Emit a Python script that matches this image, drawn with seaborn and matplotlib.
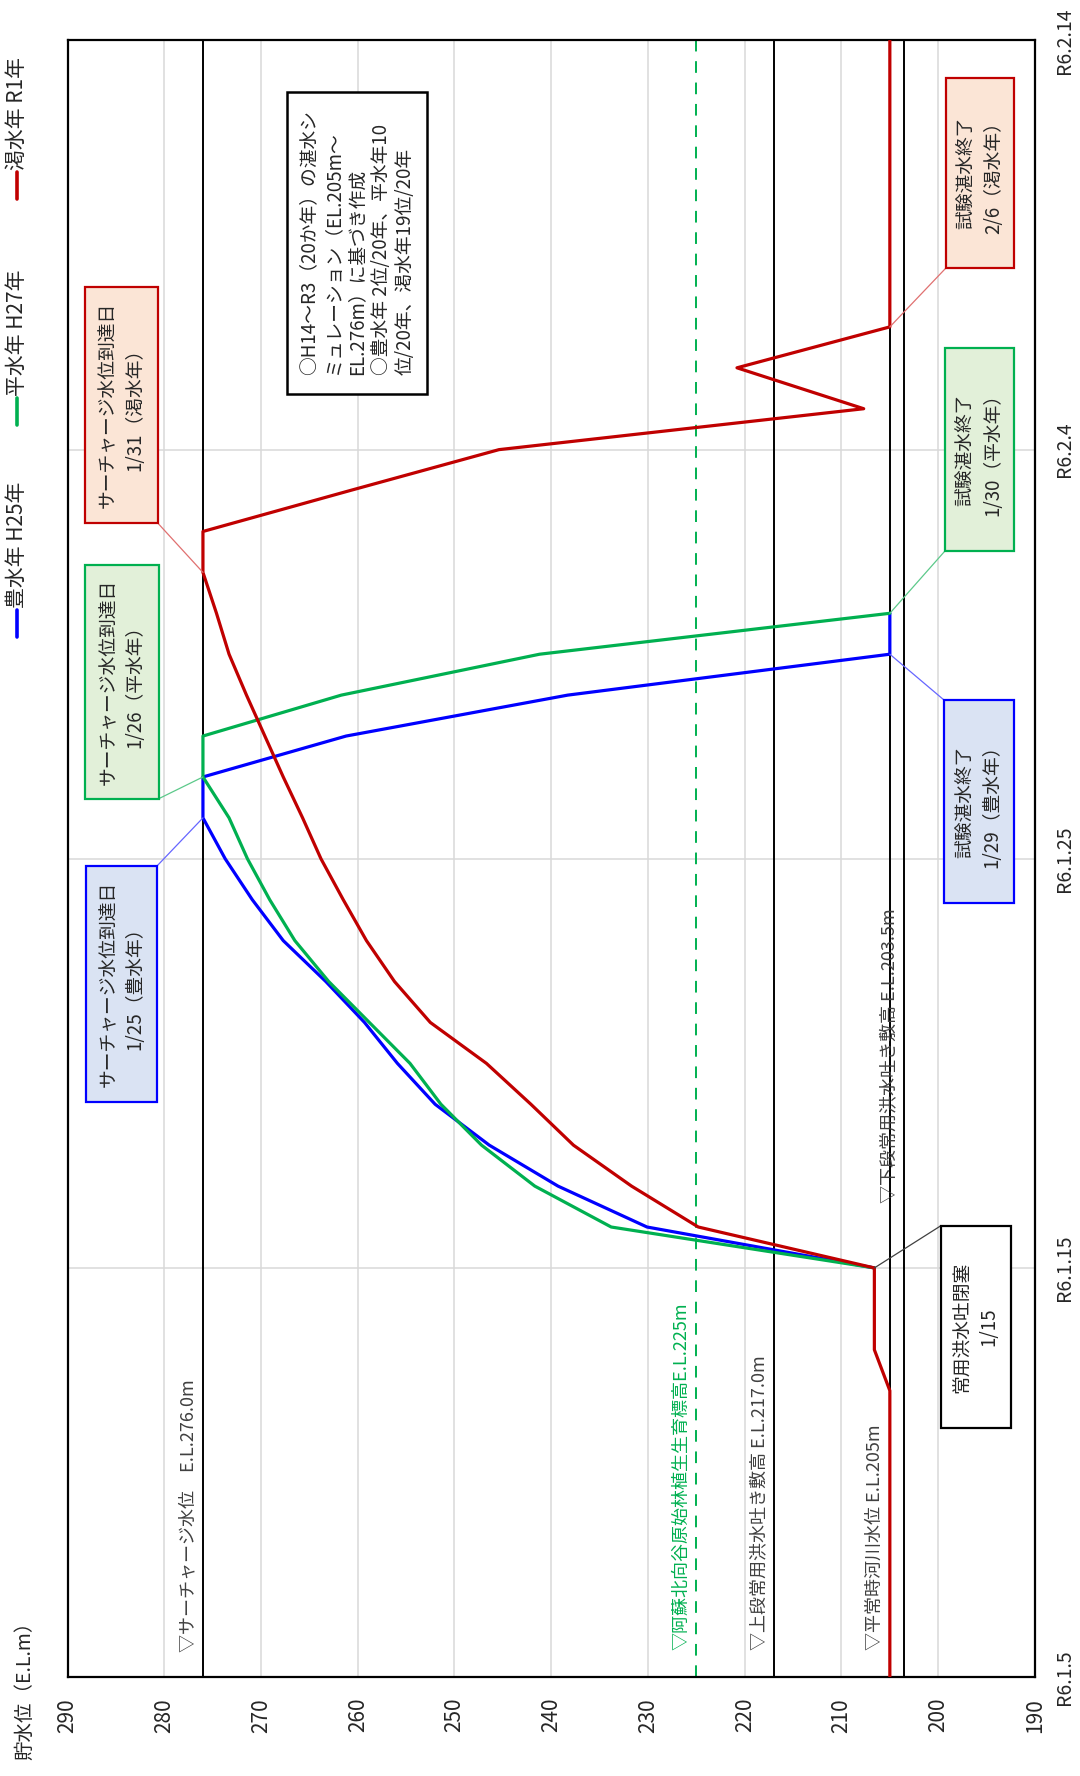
import numpy as np
import pandas as pd
import seaborn as sns
import matplotlib.pyplot as plt
from matplotlib.patches import Rectangle
from matplotlib.lines import Line2D

# 豊水年 H25年
wet_days = ["1/15", "1/16", "1/17", "1/18", "1/19", "1/20", "1/21", "1/22",
            "1/23", "1/24", "1/25", "1/26", "1/27", "1/28", "1/29", "1/30", "1/31"]
wet_level = [206.6, 230.1, 239.3, 246.4, 252.0, 255.9, 259.3, 263.3,
             267.7, 270.9, 273.7, 276.0, 276.0, 261.2, 238.3, 205.0, 205.0]

# 平水年 H27年
avg_days = ["1/15", "1/16", "1/17", "1/18", "1/19", "1/20", "1/21", "1/22",
            "1/23", "1/24", "1/25", "1/26", "1/27", "1/28", "1/29", "1/30", "1/31"]
avg_level = [206.6, 233.8, 241.7, 247.2, 251.4, 254.6, 258.8, 263.0,
             266.5, 269.1, 271.4, 273.3, 276.0, 276.0, 261.7, 241.2, 205.0]

# 渇水年 R1年
dry_days = ["1/5", "1/12", "1/13", "1/14", "1/15", "1/16", "1/17", "1/18", "1/19",
            "1/20", "1/21", "1/22", "1/23", "1/24", "1/25", "1/26", "1/27", "1/28",
            "1/29", "1/30", "1/31", "2/1", "2/2", "2/3", "2/4", "2/5", "2/6", "2/7", "2/14"]
dry_level = [205.0, 205.0, 206.6, 206.6, 206.6, 224.8, 231.7, 237.7, 242.1,
             246.7, 252.5, 256.2, 259.1, 261.5, 263.8, 265.7, 267.7, 269.6,
             271.5, 273.3, 274.6, 276.0, 276.0, 260.8, 245.4, 207.7, 220.8, 205.0, 205.0]

series_names = ["豊水年 H25年", "平水年 H27年", "渇水年 R1年"]
series_colors = ["#0000FF", "#00B050", "#C00000"]

# 基準水位
ref_levels = [276.0, 225.0, 217.0, 205.0, 203.5]
ref_labels = ["▽サーチャージ水位　E.L.276.0m",
              "▽阿蘇北向谷原始林植生生育標高E.L.225m",
              "▽上段常用洪水吐き敷高 E.L.217.0m",
              "▽平常時河川水位 E.L.205m",
              "▽下段常用洪水吐き敷高 E.L.203.5m"]

tick_days = ["1/5", "1/15", "1/25", "2/4", "2/14"]
tick_labels = ["R6.1.5", "R6.1.15", "R6.1.25", "R6.2.4", "R6.2.14"]


def to_date(d):
    return pd.to_datetime("2024/" + d, format="%Y/%m/%d")


frames = []
for name, days, lev in zip(series_names, [wet_days, avg_days, dry_days],
                           [wet_level, avg_level, dry_level]):
    frames.append(pd.DataFrame({"date": [to_date(d) for d in days],
                                "level": lev, "series": name}))
df = pd.concat(frames, ignore_index=True)

sns.set_style("white")
plt.rcParams["font.family"] = ["Noto Sans CJK JP", "DejaVu Sans"]

fig = plt.figure(figsize=(10.8, 17.76), dpi=100)
ax = fig.add_axes([0.0625, 0.0557, 0.8958, 0.9215])

sns.lineplot(data=df, x="level", y="date", hue="series", hue_order=series_names,
             palette=dict(zip(series_names, series_colors)), orient="y",
             estimator=None, sort=True, linewidth=2.3, legend=False, ax=ax, zorder=3)

ax.set_xlim(290, 190)
ax.set_ylim(to_date("1/5"), to_date("2/14"))
ax.set_xticks(np.arange(190, 291, 10))
ax.set_yticks([to_date(d) for d in tick_days])
ax.set_yticklabels(tick_labels)
ax.yaxis.tick_right()
ax.set_xlabel("")
ax.set_ylabel("")
ax.grid(True, color="#D9D9D9", lw=1.1)
ax.set_axisbelow(True)
ax.tick_params(axis="x", length=0, pad=15, labelsize=15, labelrotation=90, labelcolor="#262626")
ax.tick_params(axis="y", length=0, pad=14, labelsize=14, labelrotation=90, labelcolor="#262626")
for lab in ax.get_yticklabels():
    lab.set_va("center")
for s in ax.spines.values():
    s.set_color("black")
    s.set_linewidth(1.6)

# 基準線とラベル
ref_colors = ["black", "#00B050", "black", "black", "black"]
ref_styles = ["-", (0, (6, 5)), "-", "-", "-"]
ref_text_y = [0.0155, 0.0165, 0.0165, 0.0165, 0.2896]
for lev, lab, c, ls, ty in zip(ref_levels, ref_labels, ref_colors, ref_styles, ref_text_y):
    ax.axvline(lev, color=c, lw=1.4, ls=ls, zorder=1.5)
    tc = "#00B050" if c != "black" else "#404040"
    ax.annotate(lab, xy=(lev, ty), xycoords=("data", "axes fraction"),
                xytext=(-15, 0), textcoords="offset pixels", rotation=90,
                ha="center", va="bottom", fontsize=13, color=tc, zorder=4)


def box(x, y, w, h, text, edge, face, lw=1.6, ls=1.35, align="center", fs=13.5):
    ax.add_patch(Rectangle((x, y), w, h, transform=ax.transAxes, facecolor=face,
                           edgecolor=edge, lw=lw, zorder=5, clip_on=False))
    ax.text(x + w / 2, y + h / 2, text, transform=ax.transAxes, rotation=90,
            ha="center", va="center", multialignment=align, fontsize=fs,
            linespacing=ls, color="#262626", zorder=6)


def link(corner, point, color):
    ax.annotate("", xy=point, xycoords="data", xytext=corner, textcoords="axes fraction",
                arrowprops=dict(arrowstyle="-", color=color, lw=0.9, shrinkA=0, shrinkB=0),
                zorder=4)


def reach(days, lev):
    i = int(np.argmax(np.array(lev) >= 276.0))
    return (lev[i], to_date(days[i]))


def finish(days, lev):
    arr = np.array(lev)
    top = int(np.argmax(arr >= 276.0))
    i = top + int(np.argmax(arr[top:] <= 205.0))
    return (lev[i], to_date(days[i]))


# 閉塞
start = (wet_level[0], to_date(wet_days[0]))
box(0.9025, 0.1522, 0.0727, 0.1235, "常用洪水吐閉塞\n1/15", "black", "white")
link((0.9025, 0.2757), start, "#404040")

# 試験湛水終了
box(0.9060, 0.4727, 0.0724, 0.1243, "試験湛水終了\n1/29（豊水年）", "#0000FF", "#DAE3F3")
link((0.9060, 0.5970), finish(wet_days, wet_level), "#6666FF")
box(0.9070, 0.6881, 0.0713, 0.1240, "試験湛水終了\n1/30（平水年）", "#00B050", "#E2F0D9")
link((0.9070, 0.6881), finish(avg_days, avg_level), "#5CC98A")
box(0.9080, 0.8610, 0.0703, 0.1158, "試験湛水終了\n2/6（渇水年）", "#C00000", "#FBE5D6")
link((0.9080, 0.8610), finish(dry_days, dry_level), "#E07070")

# サーチャージ水位到達日
box(0.0181, 0.7052, 0.0751, 0.1443, "サーチャージ水位到達日\n1/31（渇水年）", "#C00000", "#FBE5D6")
link((0.0932, 0.7052), reach(dry_days, dry_level), "#E07070")
box(0.0181, 0.5368, 0.0765, 0.1427, "サーチャージ水位到達日\n1/26（平水年）", "#00B050", "#E2F0D9")
link((0.0946, 0.5368), reach(avg_days, avg_level), "#5CC98A")
box(0.0191, 0.3514, 0.0734, 0.1442, "サーチャージ水位到達日\n1/25（豊水年）", "#0000FF", "#DAE3F3")
link((0.0925, 0.4956), reach(wet_days, wet_level), "#6666FF")

# 注記
note = ("○H14～R3（20か年）の湛水シ\nミュレーション（EL.205m～\nEL.276m）に基づき作成\n"
        "○豊水年 2位/20年、平水年10\n位/20年、渇水年19位/20年")
box(0.2266, 0.7840, 0.1450, 0.1847, note, "black", "white", lw=1.8, ls=1.2,
    align="left", fs=13.5)

# 凡例
leg_y = [(610, 637), (398, 425), (172, 199)]
for name, c, (y0, y1) in zip(series_names, series_colors, leg_y):
    fig.add_artist(Line2D([17 / 1080, 17 / 1080], [1 - y1 / 1776, 1 - y0 / 1776],
                          color=c, lw=2.6))
    fig.text(17 / 1080, 1 - (y0 - 2) / 1776, name, rotation=90, ha="center",
             va="bottom", fontsize=15, color="#262626")

fig.text(25 / 1080, 1 - 1760 / 1776, "貯水位（E.L.m）", rotation=90, ha="center",
         va="bottom", fontsize=14, color="#262626")

fig.savefig("out.png", dpi=100)
